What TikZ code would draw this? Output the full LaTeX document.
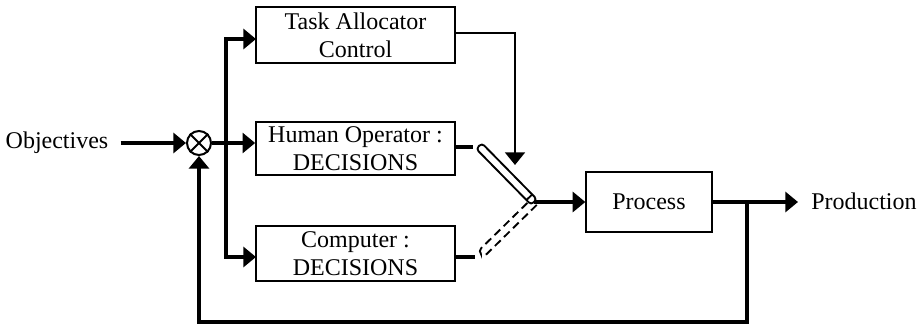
\documentclass[tikz,border=0pt]{standalone}
\usepackage{fontspec}
\setmainfont{Liberation Serif}
\usetikzlibrary{arrows.meta,calc}
\begin{document}
\begin{tikzpicture}[x=0.75pt,y=-0.75pt,
  font=\fontsize{18pt}{21pt}\selectfont,
  block/.style={draw, line width=1.5pt, inner sep=0pt, align=center, minimum width=149pt},
  flow/.style={line width=3pt, -{Triangle[length=9.5pt,width=15pt]}},
  signal/.style={line width=1.5pt, -{Triangle[length=9.5pt,width=15pt]}},
  stub/.style={line width=3pt},
  switchbar/.style={line width=1.4pt},
]
\useasboundingbox (0,0) rectangle (918,328);

% blocks
\node[block, minimum height=42pt] (task)  at (355.5,35)    {Task Allocator\\Control};
\node[block, minimum height=40pt] (human) at (355.5,148.5) {Human Operator :\\DECISIONS};
\node[block, minimum height=41pt] (comp)  at (355.5,253.5) {Computer :\\DECISIONS};
\node[block, minimum width=94pt, minimum height=45pt] (proc) at (649,202) {Process};

% input / output labels
\node[inner sep=0pt] (obj) at (57,143) {Objectives};
\node[inner sep=0pt, anchor=west] (prod) at (811,201) {Production};

% summing junction
\node[circle, draw, line width=1.5pt, minimum size=18pt, inner sep=0pt] (sum) at (199,143) {};
\draw[line width=1.5pt] (sum.north west) -- (sum.south east)
                        (sum.north east) -- (sum.south west);

% distribution bus
\coordinate (bus) at (226,143);
\coordinate (tIn) at (256,39);
\coordinate (cIn) at (256,257);
\draw[flow] ($(obj.east)+(12,0)$) -- (sum.west);
\draw[flow] (sum.east) -- (sum -| human.west);
\draw[flow] (bus) |- (tIn);
\draw[flow] (bus) |- (cIn);

% allocator command to the switch
\coordinate (tOut)  at (455,33);
\coordinate (tDrop) at (515,165);
\draw[signal] (tOut) -| (tDrop);

% decision outputs
\coordinate (hOut) at (455,147);
\coordinate (hEnd) at (473,147);
\coordinate (cOut) at (455,257);
\coordinate (cEnd) at (475,257);
\draw[stub] (hOut) -- (hEnd);
\draw[stub] (cOut) -- (cEnd);

% switch geometry
\coordinate (swA) at (479,146);
\coordinate (swB) at (534,202);
\coordinate (swD) at (481,254);
\coordinate (swC) at ($(swB)!5pt!(swA)$);

% switch to process
\draw[flow] (swB) -- (swB -| proc.west);

% open position (dashed)
\draw[switchbar, dashed, dash pattern=on 6pt off 3.5pt, rounded corners=3pt]
  ($(swB)!3pt!90:(swD)$) -- ($(swD)!3pt!-90:(swB)$) --
  ($(swD)!3pt!90:(swB)$) -- ($(swB)!3pt!-90:(swD)$);

% closed position (solid)
\draw[switchbar, fill=white, rounded corners=2.5pt]
  ($(swA)!3pt!90:(swB)$) -- ($(swB)!3pt!-90:(swA)$) --
  ($(swB)!3pt!90:(swA)$) -- ($(swA)!3pt!-90:(swB)$) -- cycle;
\draw[switchbar] ($(swC)!3pt!90:(swB)$) -- ($(swC)!3pt!-90:(swB)$);

% process output and feedback loop
\coordinate (fb)  at (747,202);
\coordinate (fbC) at (747,322);
\draw[flow] (proc.east) -- (proc.east -| {$(prod.west)+(-13,0)$});
\draw[flow] (fb) -- (fbC) -| (sum.south);
\end{tikzpicture}
\end{document}
